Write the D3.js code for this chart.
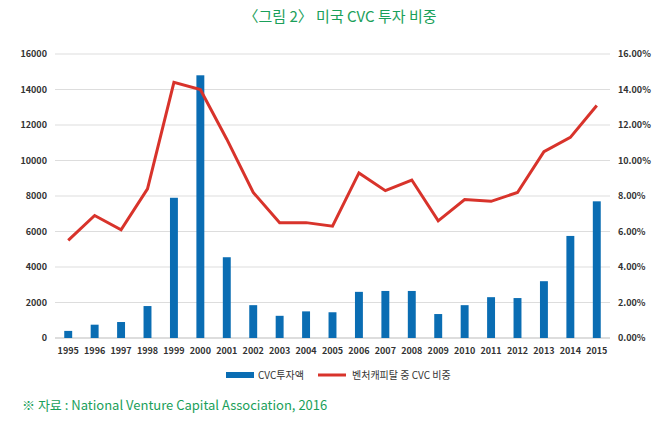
<!DOCTYPE html>
<html><head><meta charset="utf-8">
<script src="https://cdn.jsdelivr.net/npm/d3@7"></script>
<style>body{margin:0;background:#fff;font-family:"Noto Sans CJK KR","Noto Sans",sans-serif}</style>
</head><body><div id="viz"></div>
<script>
const years = [1995,1996,1997,1998,1999,2000,2001,2002,2003,2004,2005,2006,2007,2008,2009,2010,2011,2012,2013,2014,2015];
const cvcInvest = [400,750,900,1800,7900,14800,4550,1850,1250,1500,1450,2600,2650,2650,1350,1850,2300,2250,3200,5750,7700];
const cvcShare = [5.5,6.9,6.1,8.4,14.4,14.0,11.2,8.2,6.5,6.5,6.3,9.3,8.3,8.9,6.6,7.8,7.7,8.2,10.5,11.3,13.1];
const leftTicks = [0,2000,4000,6000,8000,10000,12000,14000,16000];
const rightTicks = [0,2,4,6,8,10,12,14,16];

const width = 664, height = 423;
const plotLeft = 55, plotRight = 610, plotTop = 54, plotBottom = 338;

const svg = d3.select('#viz').append('svg').attr('width', width).attr('height', height);

const x = d3.scaleBand().domain(years).range([plotLeft, plotRight]).paddingInner(0.7).paddingOuter(0.35);
const yL = d3.scaleLinear().domain([0, 16000]).range([plotBottom, plotTop]);
const yR = d3.scaleLinear().domain([0, 16]).range([plotBottom, plotTop]);

svg.append('text').attr('x', 340).attr('y', 22).attr('text-anchor', 'middle')
    .attr('fill', '#1aa05a').style('font-size', '15px').text('〈그림 2〉 미국 CVC 투자 비중');

svg.selectAll('line.grid').data(leftTicks).enter().append('line')
    .attr('x1', plotLeft).attr('x2', plotRight)
    .attr('y1', d => yL(d)).attr('y2', d => yL(d))
    .attr('stroke', d => d === 0 ? '#bbb' : '#ddd');

svg.selectAll('text.yl').data(leftTicks).enter().append('text')
    .attr('x', plotLeft - 8).attr('y', d => yL(d) + 3).attr('text-anchor', 'end')
    .style('font-size', '9px').style('font-weight', 'bold').attr('fill', '#333').text(d => d);

svg.selectAll('text.yr').data(rightTicks).enter().append('text')
    .attr('x', plotRight + 8).attr('y', d => yR(d) + 3)
    .style('font-size', '9px').style('font-weight', 'bold').attr('fill', '#333').text(d => d.toFixed(2) + '%');

svg.selectAll('text.xl').data(years).enter().append('text')
    .attr('x', d => x(d) + x.bandwidth() / 2).attr('y', plotBottom + 16).attr('text-anchor', 'middle')
    .style('font-size', '9px').style('font-weight', 'bold').attr('fill', '#333').text(d => d);

svg.selectAll('rect.bar').data(cvcInvest).enter().append('rect')
    .attr('x', (d, i) => x(years[i])).attr('width', x.bandwidth())
    .attr('y', d => yL(d)).attr('height', d => plotBottom - yL(d))
    .attr('fill', '#0a6db3');

const line = d3.line().x((d, i) => x(years[i]) + x.bandwidth() / 2).y(d => yR(d));
svg.append('path').datum(cvcShare).attr('d', line)
    .attr('fill', 'none').attr('stroke', '#d8332b').attr('stroke-width', 3);

const lg = svg.append('g').attr('transform', 'translate(0,376)');
lg.append('rect').attr('x', 226).attr('y', -4).attr('width', 28).attr('height', 6).attr('fill', '#0a6db3');
lg.append('text').attr('x', 258).attr('y', 3).style('font-size', '10px').attr('fill', '#333').text('CVC투자액');
lg.append('line').attr('x1', 318).attr('x2', 346).attr('y1', -1).attr('y2', -1).attr('stroke', '#d8332b').attr('stroke-width', 3);
lg.append('text').attr('x', 352).attr('y', 3).style('font-size', '10px').attr('fill', '#333').text('벤처캐피탈 중 CVC 비중');

svg.append('text').attr('x', 22).attr('y', 410).attr('fill', '#1aa05a').style('font-size', '13px')
    .text('※ 자료 : National Venture Capital Association, 2016');
</script></body></html>
